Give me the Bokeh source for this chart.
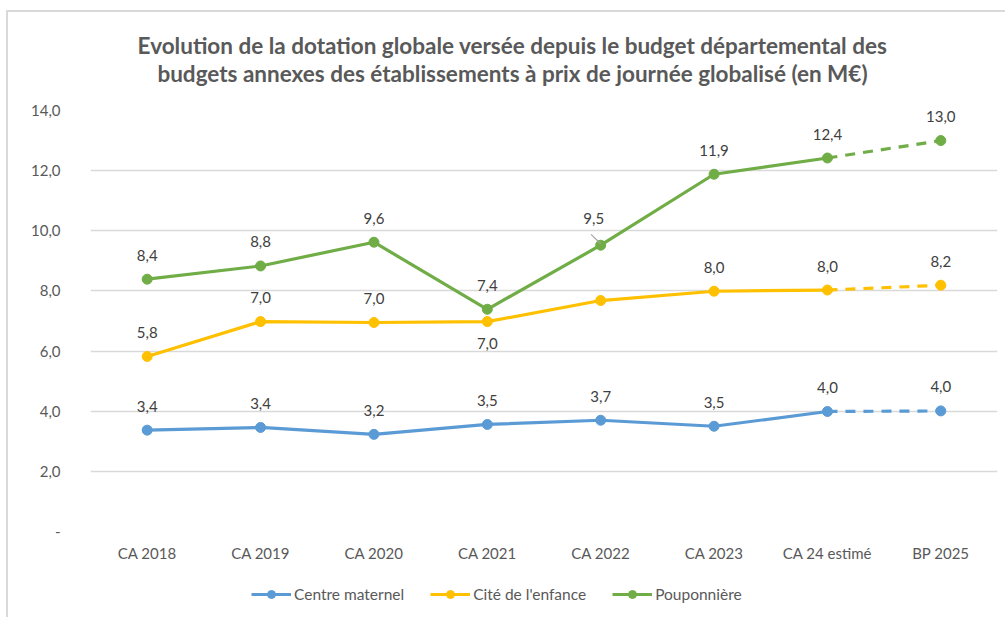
from bokeh.plotting import figure
from bokeh.layouts import column
from bokeh.models import (LegendItem, Legend, ColumnDataSource, Label,
                          FactorRange, Range1d, FixedTicker)
from bokeh.transform import dodge
from bokeh.core.properties import value
from bokeh.embed import file_html
from bokeh.resources import INLINE

categories = ["CA 2018", "CA 2019", "CA 2020", "CA 2021", "CA 2022", "CA 2023", "CA 24 estimé", "BP 2025"]
centre_maternel = [3.37, 3.46, 3.23, 3.56, 3.70, 3.50, 3.99, 4.01]
cite_enfance = [5.82, 6.98, 6.95, 6.98, 7.68, 7.99, 8.03, 8.19]
pouponniere = [8.39, 8.83, 9.62, 7.39, 9.52, 11.88, 12.42, 13.00]
labels_cm = ["3,4", "3,4", "3,2", "3,5", "3,7", "3,5", "4,0", "4,0"]
labels_ce = ["5,8", "7,0", "7,0", "7,0", "", "8,0", "8,0", "8,2"]
labels_pp = ["8,4", "8,8", "9,6", "7,4", "9,5", "11,9", "12,4", "13,0"]
series_names = ["Centre maternel", "Cité de l'enfance", "Pouponnière"]
y_ticks = [0, 2, 4, 6, 8, 10, 12, 14]
y_tick_labels = ["-", "2,0", "4,0", "6,0", "8,0", "10,0", "12,0", "14,0"]
title_lines = ["Evolution de la dotation globale versée depuis le budget départemental des",
               "budgets annexes des établissements à prix de journée globalisé (en M€)"]

colors = ["#5B9BD5", "#FFC000", "#70AD47"]
FONT = "Lato"

W = 997
p = figure(width=W, height=475, x_range=FactorRange(factors=categories), y_range=Range1d(0, 14),
           output_backend="svg", toolbar_location=None, title=None,
           min_border_left=82, min_border_right=8, min_border_top=10, min_border_bottom=44)
p.outline_line_color = None
p.background_fill_color = "white"
p.border_fill_color = "white"

# axes
p.xaxis.axis_line_color = None
p.yaxis.axis_line_color = None
p.xaxis.major_tick_line_color = None
p.yaxis.major_tick_line_color = None
p.xaxis.minor_tick_line_color = None
p.yaxis.minor_tick_line_color = None
p.xaxis.major_tick_out = 0
p.yaxis.major_tick_out = 0
p.xaxis.major_label_standoff = 12
p.yaxis.major_label_standoff = 30
p.yaxis.ticker = FixedTicker(ticks=y_ticks)
p.yaxis.major_label_overrides = {t: l for t, l in zip(y_ticks, y_tick_labels)}
for ax in (p.xaxis, p.yaxis):
    ax.major_label_text_font = FONT
    ax.major_label_text_font_size = "15px"
    ax.major_label_text_color = "#595959"
p.xgrid.grid_line_color = None
p.ygrid.ticker = FixedTicker(ticks=y_ticks)
p.ygrid.grid_line_color = "#d9d9d9"
p.ygrid.grid_line_width = 1.3

n_solid = len(categories) - 1
all_values = [centre_maternel, cite_enfance, pouponniere]
all_labels = [labels_cm, labels_ce, labels_pp]
# per-label offsets (styling)
label_yoff = [
    [-24] * 8,
    [-24, -24, -24, 22, -24, -24, -24, -24],
    [-24, -24, -24, -24, -27, -24, -24, -24],
]
label_xoff = [
    [0] * 8,
    [0] * 8,
    [0, 0, 0, 0, -7, 0, 0, 0],
]

for vals, labs, col, yo, xo in zip(all_values, all_labels, colors, label_yoff, label_xoff):
    src = ColumnDataSource(dict(x=categories, y=vals, t=labs, yo=yo, xo=xo))
    p.line(categories[:n_solid], vals[:n_solid], line_color=col, line_width=3.2)
    p.line(categories[n_solid - 1:], vals[n_solid - 1:], line_color=col, line_width=3.2, line_dash="10 8")
    p.scatter("x", "y", source=src, size=10, fill_color=col, line_color=col)
    p.text("x", "y", text="t", source=src, x_offset="xo", y_offset="yo",
           text_font=value(FONT), text_font_size="15px", text_color="#404040",
           text_align="center", text_baseline="middle")

# leader line for the 9,5 label
i22 = categories.index("CA 2022")
lsrc = ColumnDataSource(dict(x=[categories[i22]], y0=[pouponniere[i22] + 0.36], y1=[pouponniere[i22] + 0.05]))
p.segment(x0=dodge("x", -0.085, range=p.x_range), y0="y0", x1="x", y1="y1", source=lsrc,
          line_color="#a6a6a6", line_width=1.2)

# title strip
tf = figure(width=W, height=88, x_range=Range1d(0, 1), y_range=Range1d(0, 1),
            output_backend="svg", toolbar_location=None, min_border=0)
tf.axis.visible = False
tf.grid.visible = False
tf.outline_line_color = None
for line, ypos in zip(title_lines, [55, 27]):
    tf.add_layout(Label(x=422, y=ypos, x_units="screen", y_units="screen", text=line,
                        text_font=FONT, text_font_size="22.5px", text_font_style="bold",
                        text_color="#595959", text_align="center", text_baseline="middle"))

# legend strip: a small figure sharing the x scale; its y window lies outside the data,
# so only the legend shows (lets the legend sit off-centre, as in the reference)
lg = figure(width=W, height=42, x_range=p.x_range, y_range=Range1d(100, 101),
            output_backend="svg", toolbar_location=None, min_border=0)
lg.axis.visible = False
lg.grid.visible = False
lg.outline_line_color = None
items = []
for vals, col, name in zip(all_values, colors, series_names):
    r_line = lg.line(categories, vals, line_color=col, line_width=3.2)
    r_pt = lg.scatter(categories, vals, size=10, fill_color=col, line_color=col)
    items.append(LegendItem(label=name, renderers=[r_line, r_pt]))
legend = Legend(items=items, orientation="horizontal", location=(161, 13),
                label_text_font=FONT, label_text_font_size="15.5px", label_text_color="#595959",
                glyph_width=40, label_standoff=3, spacing=26, border_line_color=None,
                background_fill_alpha=0, margin=0, padding=4)
lg.add_layout(legend, "center")

layout = column(tf, p, lg, spacing=0,
                styles={"margin-top": "10px", "margin-left": "6px",
                        "border-top": "2px solid #d9d9d9", "border-left": "2px solid #d9d9d9"})

open("out.html", "w").write(file_html(layout, INLINE))
